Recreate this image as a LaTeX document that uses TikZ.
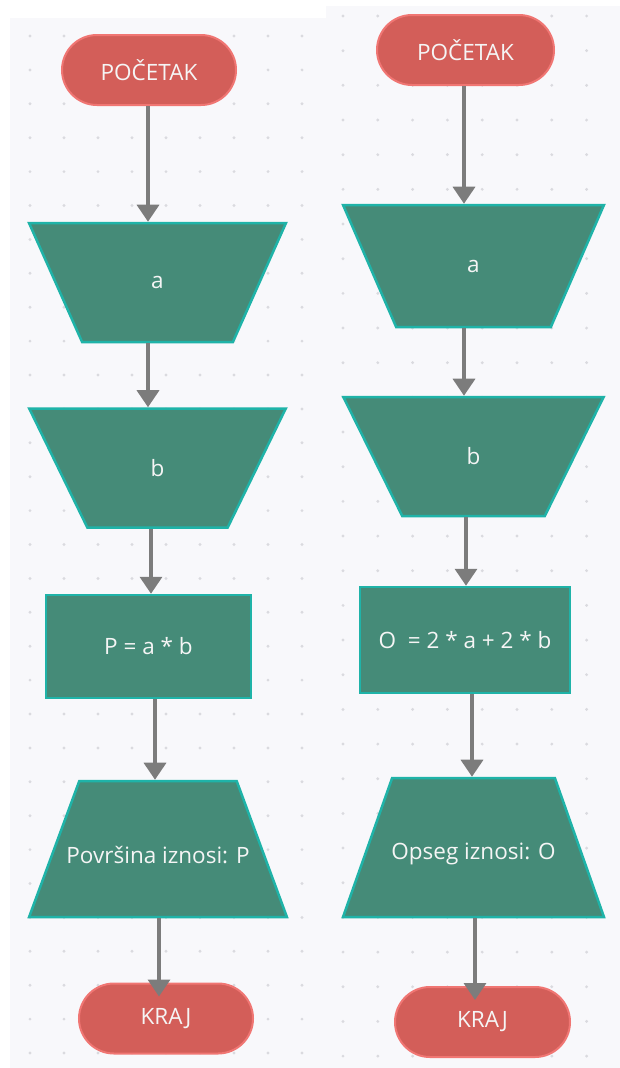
\documentclass[tikz,border=0pt]{standalone}
\usepackage{fontspec}
\setmainfont{Open Sans}
\usetikzlibrary{shapes.geometric,arrows.meta}
\definecolor{panelbg}{HTML}{F8F8FB}
\definecolor{dotc}{HTML}{DADADF}
\definecolor{termfill}{HTML}{D35E59}
\definecolor{termline}{HTML}{F07673}
\definecolor{procfill}{HTML}{458B78}
\definecolor{procline}{HTML}{1FB3A8}
\definecolor{arrc}{HTML}{7C7C7C}
\tikzset{
  txt/.style={text=white!96!black, font=\fontsize{22.5}{27}\selectfont},
  term/.style={txt, rectangle, rounded corners=35pt, fill=termfill, draw=termline, line width=2pt, minimum width=174pt, minimum height=70pt},
  proc/.style={txt, rectangle, fill=procfill, draw=procline, line width=2.5pt},
  inbox/.style={txt, trapezium, trapezium stretches=true, fill=procfill, draw=procline, line width=2.5pt, trapezium left angle=#1, trapezium right angle=#1},
  arr/.style={draw=arrc, line width=3.5pt, -{Triangle[width=22pt,length=17pt]}, arrc}
}
\begin{document}
\begin{tikzpicture}[x=1pt,y=-1pt]
\useasboundingbox (0,0) rectangle (620,1068);
\fill[white] (0,0) rectangle (620,1068);
% panels
\fill[panelbg] (10,18) rectangle (326,1068);
\fill[panelbg] (326,6) rectangle (620,1068);
\foreach \i in {0,...,8}{\foreach \j in {0,...,30}{\fill[dotc] ({30+34*\i},{36+33.9*\j}) circle (1.6pt);}}
\foreach \i in {0,...,7}{\foreach \j in {0,...,30}{\fill[dotc] ({343+34.8*\i},{16+34.67*\j}) circle (1.6pt);}}
% left chart
\node[term] (s1) at (149,70) {POČETAK};
\node[inbox=109.44, minimum width=257pt, minimum height=119pt] (a1) at (157.5,282.5) {a};
\node[inbox=109.44, minimum width=257pt, minimum height=119pt] (b1) at (157.5,468) {b};
\node[proc, minimum width=205pt, minimum height=103pt] (r1) at (148.5,646.5) {P = a * b};
\node[inbox=72.3, minimum width=258pt, minimum height=136pt] (o1) at (158,849) {};
\node[txt] (o1t) at (158,855) {Površina iznosi: P};
\node[term] (k1) at (166,1018.5) {KRAJ};
% right chart
\node[term, minimum width=177pt] (s2) at (465.5,50) {POČETAK};
\node[inbox=109.0, minimum width=261pt, minimum height=122pt] (a2) at (473.5,266) {a};
\node[inbox=109.4, minimum width=261pt, minimum height=119pt] (b2) at (473.5,456.5) {b};
\node[proc, minimum width=210pt, minimum height=106pt] (r2) at (465,640) {O~ = 2 * a + 2 * b};
\node[inbox=73.2, minimum width=261pt, minimum height=139pt] (o2) at (473.5,847.5) {};
\node[txt] (o2t) at (473.5,854) {Opseg iznosi: O};
\node[term, minimum width=175pt] (k2) at (482.5,1022) {KRAJ};
% connectors left
\draw[arr] ([xshift=-1pt]s1.south) -- ([xshift=-1pt]s1.south |- a1.north);
\draw[arr] ([xshift=-9.5pt]a1.south) -- ([xshift=-9.5pt]a1.south |- b1.north);
\draw[arr] ([xshift=-6.5pt]b1.south) -- ([xshift=-6.5pt]b1.south |- r1.north);
\draw[arr] ([xshift=6.5pt]r1.south) -- ([xshift=6.5pt]r1.south |- o1.north);
\draw[arr] ([xshift=1pt]o1.south) -- ([xshift=1pt,yshift=-14pt]o1.south |- k1.north);
% connectors right
\draw[arr] ([xshift=-1.5pt]s2.south) -- ([xshift=-1.5pt]s2.south |- a2.north);
\draw[arr] ([xshift=-9.5pt]a2.south) -- ([xshift=-9.5pt]a2.south |- b2.north);
\draw[arr] ([xshift=-7.5pt]b2.south) -- ([xshift=-7.5pt]b2.south |- r2.north);
\draw[arr] ([xshift=7pt]r2.south) -- ([xshift=7pt]r2.south |- o2.north);
\draw[arr] ([xshift=1.5pt]o2.south) -- ([xshift=1.5pt,yshift=-14pt]o2.south |- k2.north);
\end{tikzpicture}
\end{document}
